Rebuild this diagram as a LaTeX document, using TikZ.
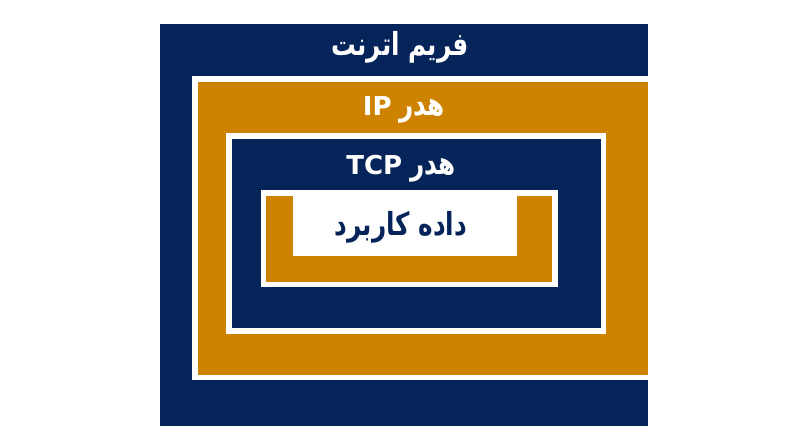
\documentclass[tikz,border=0pt]{standalone}
\usepackage{fontspec}
\usepackage{graphicx}
\TeXXeTstate=1
\newfontfamily\arabicfont[Script=Arabic]{DejaVu Sans}
\newcommand{\fa}[1]{\scalebox{0.95}[1.22]{\beginR #1\endR}}
\definecolor{navy}{HTML}{04245A}
\definecolor{amber}{HTML}{CD8200}
\begin{document}
\begin{tikzpicture}[x=1pt,y=1pt,
  lbl/.style={font=\arabicfont\bfseries\fontsize{26}{30}\selectfont, inner sep=0pt, anchor=base}]
\useasboundingbox (0,0) rectangle (800,447);
\fill[white] (0,0) rectangle (800,447);
% ethernet frame
\fill[navy] (160,21) rectangle (648,422.5);
% IP
\fill[white] (192,67) rectangle (648,371);
\fill[amber] (198,72) rectangle (648,365);
% TCP
\fill[white] (226,113) rectangle (606,314);
\fill[navy] (231.5,118.5) rectangle (600.5,308);
% data
\fill[white] (261,160) rectangle (557.5,257);
\fill[amber] (266,165) rectangle (552,251);
\fill[white] (292.7,191) rectangle (517,257);
% labels
\node[lbl, text=white] (eth) at (400,391) {\fa{فریم اترنت}};
\node[lbl, text=white] (ip) at (404,331) {IP\hspace{0.3em}\fa{هدر}};
\node[lbl, text=white] (tcp) at (401,272) {TCP\hspace{0.3em}\fa{هدر}};
\node[lbl, text=navy] (data) at (401,211) {\fa{داده کاربرد}};
\end{tikzpicture}
\end{document}
